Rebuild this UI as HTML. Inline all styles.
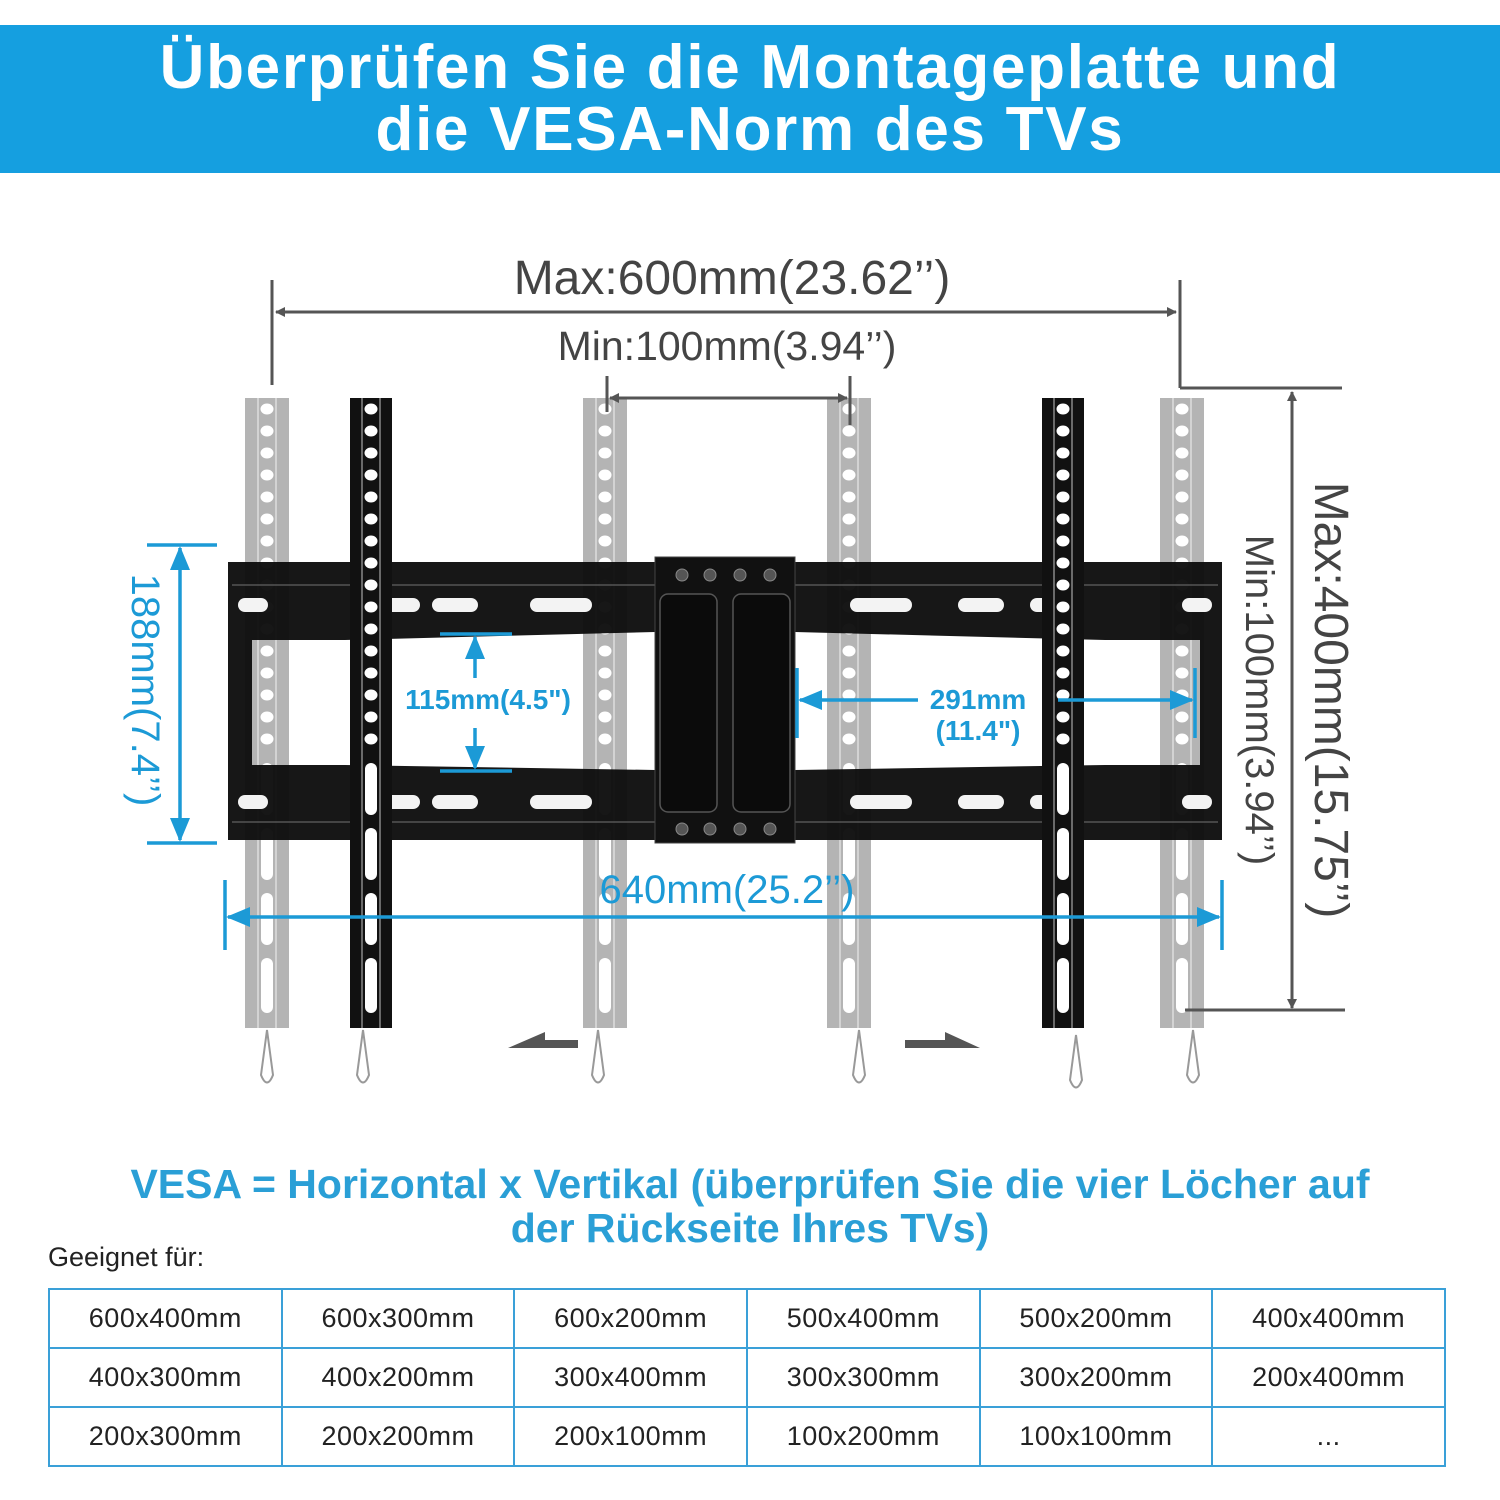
<!DOCTYPE html>
<html><head><meta charset="utf-8"><style>
html,body{margin:0;padding:0;background:#fff;}
body{width:1500px;height:1500px;position:relative;overflow:hidden;font-family:"Liberation Sans",sans-serif;}
.hdr{position:absolute;left:0;top:25px;width:1500px;height:148px;background:#159fe0;color:#fff;font-weight:bold;font-size:62px;text-align:center;line-height:62px;padding-top:12px;box-sizing:border-box;letter-spacing:1.7px;}
.vesa{position:absolute;left:0;width:1500px;text-align:center;top:1162px;color:#2a9fd6;font-weight:bold;font-size:41px;line-height:44px;}
.geeig{position:absolute;left:48px;top:1242px;font-size:27px;color:#222;}
table{position:absolute;left:48px;top:1288px;border-collapse:collapse;width:1398px;}
td{border:2px solid #3aa0d8;height:57px;width:233px;text-align:center;font-size:27px;color:#222;padding:0;letter-spacing:0.5px;}
</style></head><body>
<div class="hdr">Überprüfen Sie die Montageplatte und<br>die VESA-Norm des TVs</div>
<svg width="1500" height="1500" style="position:absolute;left:0;top:0" xmlns="http://www.w3.org/2000/svg">
<defs>
<pattern id="hp" patternUnits="userSpaceOnUse" width="44" height="22"><ellipse cx="22" cy="11" rx="6.5" ry="5.5" fill="#fff"/></pattern>
<g id="railg">
<rect x="0" y="0" width="44" height="630" fill="#b4b4b4"/>
<line x1="13" y1="0" x2="13" y2="630" stroke="#ddd" stroke-width="1.5"/>
<line x1="31" y1="0" x2="31" y2="630" stroke="#ddd" stroke-width="1.5"/>
<rect x="0" y="3" width="44" height="352" fill="url(#hp)"/>
<rect x="16" y="365" width="12" height="52" rx="6" fill="#fff"/>
<rect x="16" y="430" width="12" height="52" rx="6" fill="#fff"/>
<rect x="16" y="495" width="12" height="52" rx="6" fill="#fff"/>
<rect x="16" y="560" width="12" height="55" rx="6" fill="#fff"/>
</g>
<g id="railb">
<rect x="0" y="0" width="42" height="630" fill="#111"/>
<line x1="12" y1="0" x2="12" y2="630" stroke="#888" stroke-width="1.5"/>
<line x1="30" y1="0" x2="30" y2="630" stroke="#888" stroke-width="1.5"/>
<rect x="0" y="3" width="44" height="352" fill="url(#hp)" transform="translate(-1,0)"/>
<rect x="15" y="365" width="12" height="52" rx="6" fill="#fff"/>
<rect x="15" y="430" width="12" height="52" rx="6" fill="#fff"/>
<rect x="15" y="495" width="12" height="52" rx="6" fill="#fff"/>
<rect x="15" y="560" width="12" height="55" rx="6" fill="#fff"/>
</g>
<g id="lan"><path d="M0 0 L-6 45 Q0 60 6 45 Z" fill="none" stroke="#999" stroke-width="2"/></g>
<marker id="ag" markerWidth="10" markerHeight="10" refX="9" refY="5" orient="auto-start-reverse" markerUnits="userSpaceOnUse"><path d="M0 0 L10 5 L0 10 Z" fill="#555"/></marker>
<marker id="ab" markerWidth="24" markerHeight="24" refX="22" refY="12" orient="auto-start-reverse" markerUnits="userSpaceOnUse"><path d="M0 2 L24 12 L0 22 Z" fill="#1c9ad6"/></marker>
</defs>

<use href="#railg" x="245" y="398"/>
<use href="#railg" x="583" y="398"/>
<use href="#railg" x="827" y="398"/>
<use href="#railg" x="1160" y="398"/>

<path fill-rule="evenodd" fill="#0e0e0e" opacity="0.96" d="M228 562 H1222 V840 H228 Z
 M252 640 L345 640 L655 632 L655 770 L345 765 L252 765 Z
 M795 632 L1105 640 L1200 640 L1200 765 L1105 765 L795 770 Z"/>
<line x1="232" y1="585" x2="1218" y2="585" stroke="#555" stroke-width="1.5"/>
<line x1="232" y1="822" x2="1218" y2="822" stroke="#555" stroke-width="1.5"/>
<g fill="#fff" opacity="0.95">
<rect x="238" y="598" width="30" height="14" rx="7"/><rect x="370" y="598" width="50" height="14" rx="7"/>
<rect x="432" y="598" width="46" height="14" rx="7"/><rect x="530" y="598" width="62" height="14" rx="7"/>
<rect x="238" y="795" width="30" height="14" rx="7"/><rect x="370" y="795" width="50" height="14" rx="7"/>
<rect x="432" y="795" width="46" height="14" rx="7"/><rect x="530" y="795" width="62" height="14" rx="7"/>
<rect x="850" y="598" width="62" height="14" rx="7"/><rect x="958" y="598" width="46" height="14" rx="7"/>
<rect x="1030" y="598" width="50" height="14" rx="7"/><rect x="1182" y="598" width="30" height="14" rx="7"/>
<rect x="850" y="795" width="62" height="14" rx="7"/><rect x="958" y="795" width="46" height="14" rx="7"/>
<rect x="1030" y="795" width="50" height="14" rx="7"/><rect x="1182" y="795" width="30" height="14" rx="7"/>
</g>
<rect x="655" y="557" width="140" height="286" fill="#111" stroke="#444"/>
<rect x="660" y="594" width="57" height="218" rx="8" fill="#0b0b0b" stroke="#555" stroke-width="1.5"/>
<rect x="733" y="594" width="57" height="218" rx="8" fill="#0b0b0b" stroke="#555" stroke-width="1.5"/>
<g fill="#555" stroke="#888" stroke-width="1">
<circle cx="682" cy="575" r="6"/><circle cx="710" cy="575" r="6"/><circle cx="740" cy="575" r="6"/><circle cx="770" cy="575" r="6"/>
<circle cx="682" cy="829" r="6"/><circle cx="710" cy="829" r="6"/><circle cx="740" cy="829" r="6"/><circle cx="770" cy="829" r="6"/>
</g>

<use href="#railb" x="350" y="398"/>
<use href="#railb" x="1042" y="398"/>
<use href="#lan" x="267" y="1030"/><use href="#lan" x="363" y="1030"/><use href="#lan" x="598" y="1030"/>
<use href="#lan" x="859" y="1030"/><use href="#lan" x="1076" y="1035"/><use href="#lan" x="1193" y="1030"/>

<g stroke="#555" stroke-width="3" fill="none">
<line x1="272" y1="280" x2="272" y2="385"/><line x1="1180" y1="280" x2="1180" y2="388"/>
<line x1="1180" y1="388" x2="1342" y2="388"/>
<line x1="276" y1="312" x2="1176" y2="312" marker-start="url(#ag)" marker-end="url(#ag)"/>
<line x1="607" y1="376" x2="607" y2="412"/><line x1="850" y1="376" x2="850" y2="425"/>
<line x1="610" y1="398" x2="847" y2="398" marker-start="url(#ag)" marker-end="url(#ag)"/>
<line x1="1292" y1="392" x2="1292" y2="1008" marker-start="url(#ag)" marker-end="url(#ag)"/>
<line x1="1185" y1="1010" x2="1345" y2="1010"/>
</g>
<g fill="#555">
<path d="M508 1048 L578 1048 L578 1040 L545 1040 L545 1032 Z"/>
<path d="M905 1048 L980 1048 L945 1032 L945 1040 L905 1040 Z"/>
</g>
<g font-family="Liberation Sans, sans-serif" fill="#444">
<text x="732" y="294" font-size="48" text-anchor="middle">Max:600mm(23.62’’)</text>
<text x="727" y="360" font-size="41" text-anchor="middle">Min:100mm(3.94’’)</text>
<text transform="translate(1315,700) rotate(90)" font-size="48" text-anchor="middle">Max:400mm(15.75’’)</text>
<text transform="translate(1246,700) rotate(90)" font-size="40" text-anchor="middle">Min:100mm(3.94’’)</text>
</g>

<g stroke="#1c9ad6" stroke-width="3.5" fill="none">
<line x1="147" y1="545" x2="217" y2="545"/><line x1="147" y1="843" x2="217" y2="843"/>
<line x1="180" y1="548" x2="180" y2="840" marker-start="url(#ab)" marker-end="url(#ab)"/>
<line x1="225" y1="880" x2="225" y2="950"/><line x1="1222" y1="880" x2="1222" y2="950"/>
<line x1="228" y1="917" x2="1219" y2="917" marker-start="url(#ab)" marker-end="url(#ab)"/>
<line x1="440" y1="634" x2="512" y2="634"/><line x1="440" y1="771" x2="512" y2="771"/>
<line x1="475" y1="678" x2="475" y2="637" marker-end="url(#ab)"/>
<line x1="475" y1="728" x2="475" y2="768" marker-end="url(#ab)"/>
<line x1="797" y1="668" x2="797" y2="738"/><line x1="1195" y1="668" x2="1195" y2="738"/>
<line x1="918" y1="700" x2="800" y2="700" marker-end="url(#ab)"/>
<line x1="1058" y1="700" x2="1192" y2="700" marker-end="url(#ab)"/>
</g>
<g font-family="Liberation Sans, sans-serif" fill="#1c9ad6">
<text transform="translate(132,690) rotate(90)" font-size="40" text-anchor="middle">188mm(7.4’’)</text>
<text x="727" y="903" font-size="40" text-anchor="middle">640mm(25.2’’)</text>
<text x="488" y="709" font-size="28" font-weight="bold" text-anchor="middle">115mm(4.5")</text>
<text x="978" y="709" font-size="28" font-weight="bold" text-anchor="middle">291mm</text>
<text x="978" y="740" font-size="28" font-weight="bold" text-anchor="middle">(11.4")</text>
</g>
</svg>
<div class="vesa">VESA = Horizontal x Vertikal (überprüfen Sie die vier Löcher auf<br>der Rückseite Ihres TVs)</div>
<div class="geeig">Geeignet für:</div>
<table>
<tr><td>600x400mm</td><td>600x300mm</td><td>600x200mm</td><td>500x400mm</td><td>500x200mm</td><td>400x400mm</td></tr>
<tr><td>400x300mm</td><td>400x200mm</td><td>300x400mm</td><td>300x300mm</td><td>300x200mm</td><td>200x400mm</td></tr>
<tr><td>200x300mm</td><td>200x200mm</td><td>200x100mm</td><td>100x200mm</td><td>100x100mm</td><td>...</td></tr>
</table>
</body></html>
